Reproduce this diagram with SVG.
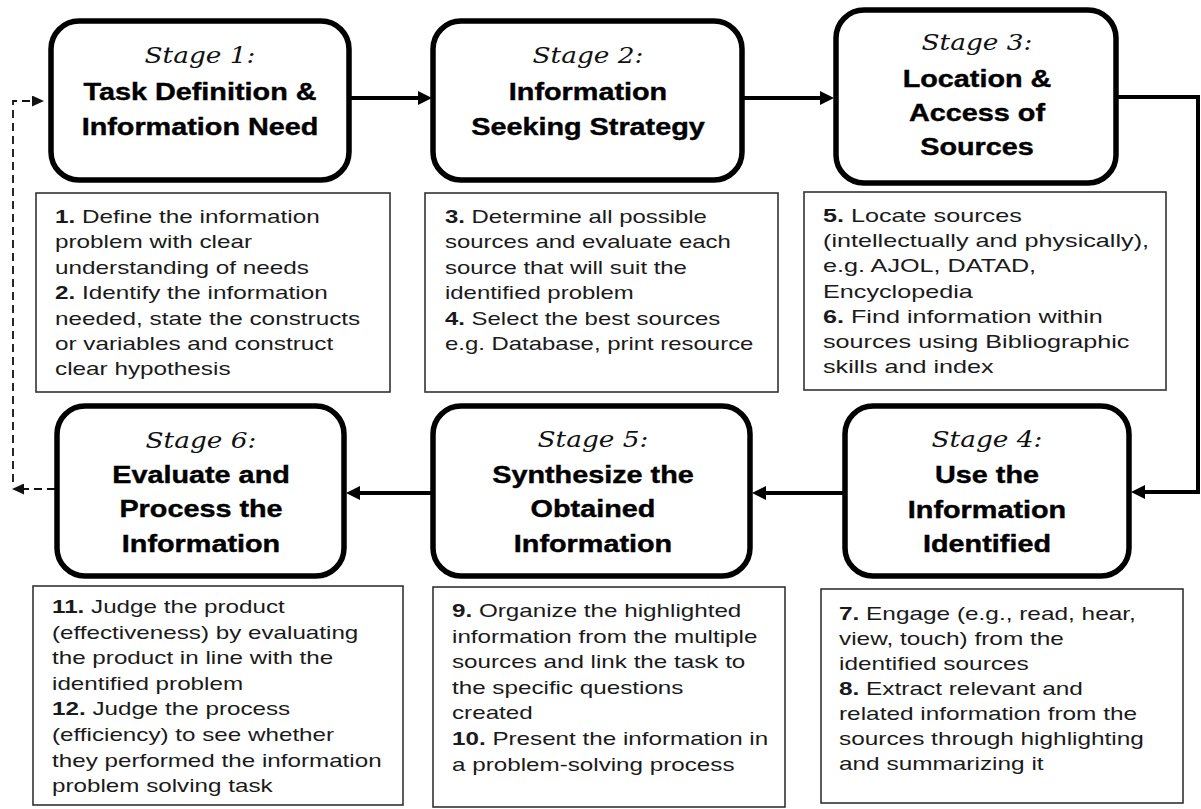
<svg xmlns="http://www.w3.org/2000/svg" width="1201" height="809" viewBox="0 0 1201 809">
  <defs>
    <style>
      .stage { fill: #fff; stroke: #000; stroke-width: 5.5; }
      .note { fill: #fff; stroke: #333; stroke-width: 1.6; }
      .lbl { font-family: "DejaVu Serif", "Liberation Serif", serif; font-style: italic; font-size: 22px; fill: #111; }
      .ttl { font-family: "Liberation Sans", Arial, sans-serif; font-weight: bold; font-size: 24px; fill: #000; stroke: #000; stroke-width: 0.4; }
      .body { font-family: "Liberation Sans", Arial, sans-serif; font-size: 18px; fill: #1a1a1a; }
      .body .n { font-weight: bold; }
      .flow { fill: none; stroke: #000; stroke-width: 4; }
      .loop { fill: none; stroke: #111; stroke-width: 1.8; stroke-dasharray: 8 5; }
    </style>
    <marker id="arrow" markerUnits="userSpaceOnUse" markerWidth="14" markerHeight="14" refX="10" refY="7" orient="auto">
      <path d="M0,0 L14,7 L0,14 z" fill="#000"/>
    </marker>
    <marker id="arrow-small" markerUnits="userSpaceOnUse" markerWidth="12" markerHeight="11" refX="9" refY="5.5" orient="auto">
      <path d="M0,0 L12,5.5 L0,11 z" fill="#111"/>
    </marker>
  </defs>

  <rect width="1201" height="809" fill="#fff"/>

  <!-- flow between stages -->
  <g id="connectors">
    <path class="flow" d="M349,98 H428" marker-end="url(#arrow)"/>
    <path class="flow" d="M742,98 H830" marker-end="url(#arrow)"/>
    <path class="flow" d="M1116,97 H1198 V492 H1135" marker-end="url(#arrow)"/>
    <path class="flow" d="M845,493 H756" marker-end="url(#arrow)"/>
    <path class="flow" d="M433,493 H350" marker-end="url(#arrow)"/>
    <!-- feedback loop from stage 6 back to stage 1 -->
    <path class="loop" d="M55,489 H15" marker-end="url(#arrow-small)"/>
    <path class="loop" d="M13,482 V101 H41" marker-end="url(#arrow-small)"/>
  </g>

  <!-- top row -->
  <g id="stage1">
    <rect class="stage" x="51" y="21" width="298" height="159" rx="28"/>
    <text class="lbl" text-anchor="middle" transform="translate(200,0) scale(1.2,1)"><tspan x="0" y="63">Stage 1:</tspan></text>
    <text class="ttl" text-anchor="middle" transform="translate(200,0) scale(1.2,1)"><tspan x="0" y="100">Task Definition &amp;</tspan><tspan x="0" y="135">Information Need</tspan></text>
  </g>
  <g id="stage2">
    <rect class="stage" x="433" y="21" width="309" height="159" rx="28"/>
    <text class="lbl" text-anchor="middle" transform="translate(588,0) scale(1.2,1)"><tspan x="0" y="63">Stage 2:</tspan></text>
    <text class="ttl" text-anchor="middle" transform="translate(588,0) scale(1.2,1)"><tspan x="0" y="100">Information</tspan><tspan x="0" y="135">Seeking Strategy</tspan></text>
  </g>
  <g id="stage3">
    <rect class="stage" x="836" y="10" width="280" height="173" rx="28"/>
    <text class="lbl" text-anchor="middle" transform="translate(977,0) scale(1.2,1)"><tspan x="0" y="50">Stage 3:</tspan></text>
    <text class="ttl" text-anchor="middle" transform="translate(977,0) scale(1.2,1)"><tspan x="0" y="87">Location &amp;</tspan><tspan x="0" y="121">Access of</tspan><tspan x="0" y="155">Sources</tspan></text>
  </g>

  <g id="steps1-2">
    <rect class="note" x="36" y="193" width="354" height="199"/>
    <text class="body" transform="translate(55,223) scale(1.35,1)">
      <tspan x="0" y="0"><tspan class="n">1.</tspan> Define the information</tspan>
      <tspan x="0" y="25.4">problem with clear</tspan>
      <tspan x="0" y="50.8">understanding of needs</tspan>
      <tspan x="0" y="76.2"><tspan class="n">2.</tspan> Identify the information</tspan>
      <tspan x="0" y="101.6">needed, state the constructs</tspan>
      <tspan x="0" y="127">or variables and construct</tspan>
      <tspan x="0" y="152.4">clear hypothesis</tspan>
    </text>
  </g>
  <g id="steps3-4">
    <rect class="note" x="425" y="193" width="353" height="199"/>
    <text class="body" transform="translate(445,223) scale(1.33,1)">
      <tspan x="0" y="0"><tspan class="n">3.</tspan> Determine all possible</tspan>
      <tspan x="0" y="25.4">sources and evaluate each</tspan>
      <tspan x="0" y="50.8">source that will suit the</tspan>
      <tspan x="0" y="76.2">identified problem</tspan>
      <tspan x="0" y="101.6"><tspan class="n">4.</tspan> Select the best sources</tspan>
      <tspan x="0" y="127">e.g. Database, print resource</tspan>
    </text>
  </g>
  <g id="steps5-6">
    <rect class="note" x="804" y="192" width="362" height="198"/>
    <text class="body" transform="translate(823,222) scale(1.4,1)">
      <tspan x="0" y="0"><tspan class="n">5.</tspan> Locate sources</tspan>
      <tspan x="0" y="25.2">(intellectually and physically),</tspan>
      <tspan x="0" y="50.4">e.g. AJOL, DATAD,</tspan>
      <tspan x="0" y="75.6">Encyclopedia</tspan>
      <tspan x="0" y="100.8"><tspan class="n">6.</tspan> Find information within</tspan>
      <tspan x="0" y="126">sources using Bibliographic</tspan>
      <tspan x="0" y="151.2">skills and index</tspan>
    </text>
  </g>

  <!-- bottom row -->
  <g id="stage4">
    <rect class="stage" x="845" y="406" width="284" height="170" rx="28"/>
    <text class="lbl" text-anchor="middle" transform="translate(987,0) scale(1.2,1)"><tspan x="0" y="447">Stage 4:</tspan></text>
    <text class="ttl" text-anchor="middle" transform="translate(987,0) scale(1.2,1)"><tspan x="0" y="483">Use the</tspan><tspan x="0" y="518">Information</tspan><tspan x="0" y="552">Identified</tspan></text>
  </g>
  <g id="stage5">
    <rect class="stage" x="433" y="406" width="317" height="170" rx="28"/>
    <text class="lbl" text-anchor="middle" transform="translate(593,0) scale(1.2,1)"><tspan x="0" y="447">Stage 5:</tspan></text>
    <text class="ttl" text-anchor="middle" transform="translate(593,0) scale(1.2,1)"><tspan x="0" y="483">Synthesize the</tspan><tspan x="0" y="517">Obtained</tspan><tspan x="0" y="552">Information</tspan></text>
  </g>
  <g id="stage6">
    <rect class="stage" x="57" y="406" width="287" height="170" rx="28"/>
    <text class="lbl" text-anchor="middle" transform="translate(201,0) scale(1.2,1)"><tspan x="0" y="448">Stage 6:</tspan></text>
    <text class="ttl" text-anchor="middle" transform="translate(201,0) scale(1.2,1)"><tspan x="0" y="483">Evaluate and</tspan><tspan x="0" y="517">Process the</tspan><tspan x="0" y="552">Information</tspan></text>
  </g>

  <g id="steps7-8">
    <rect class="note" x="821" y="589" width="362" height="214"/>
    <text class="body" transform="translate(839,620) scale(1.355,1)">
      <tspan x="0" y="0"><tspan class="n">7.</tspan> Engage (e.g., read, hear,</tspan>
      <tspan x="0" y="25">view, touch) from the</tspan>
      <tspan x="0" y="50">identified sources</tspan>
      <tspan x="0" y="75"><tspan class="n">8.</tspan> Extract relevant and</tspan>
      <tspan x="0" y="100">related information from the</tspan>
      <tspan x="0" y="125">sources through highlighting</tspan>
      <tspan x="0" y="150">and summarizing it</tspan>
    </text>
  </g>
  <g id="steps9-10">
    <rect class="note" x="433" y="587" width="352" height="220"/>
    <text class="body" transform="translate(452,617) scale(1.345,1)">
      <tspan x="0" y="0"><tspan class="n">9.</tspan> Organize the highlighted</tspan>
      <tspan x="0" y="25.6">information from the multiple</tspan>
      <tspan x="0" y="51.2">sources and link the task to</tspan>
      <tspan x="0" y="76.8">the specific questions</tspan>
      <tspan x="0" y="102.4">created</tspan>
      <tspan x="0" y="128"><tspan class="n">10.</tspan> Present the information in</tspan>
      <tspan x="0" y="153.6">a problem-solving process</tspan>
    </text>
  </g>
  <g id="steps11-12">
    <rect class="note" x="33" y="586" width="370" height="219"/>
    <text class="body" transform="translate(52,613) scale(1.345,1)">
      <tspan x="0" y="0"><tspan class="n">11.</tspan> Judge the product</tspan>
      <tspan x="0" y="25.6">(effectiveness) by evaluating</tspan>
      <tspan x="0" y="51.2">the product in line with the</tspan>
      <tspan x="0" y="76.8">identified problem</tspan>
      <tspan x="0" y="102.4"><tspan class="n">12.</tspan> Judge the process</tspan>
      <tspan x="0" y="128">(efficiency) to see whether</tspan>
      <tspan x="0" y="153.6">they performed the information</tspan>
      <tspan x="0" y="179.2">problem solving task</tspan>
    </text>
  </g>
</svg>
